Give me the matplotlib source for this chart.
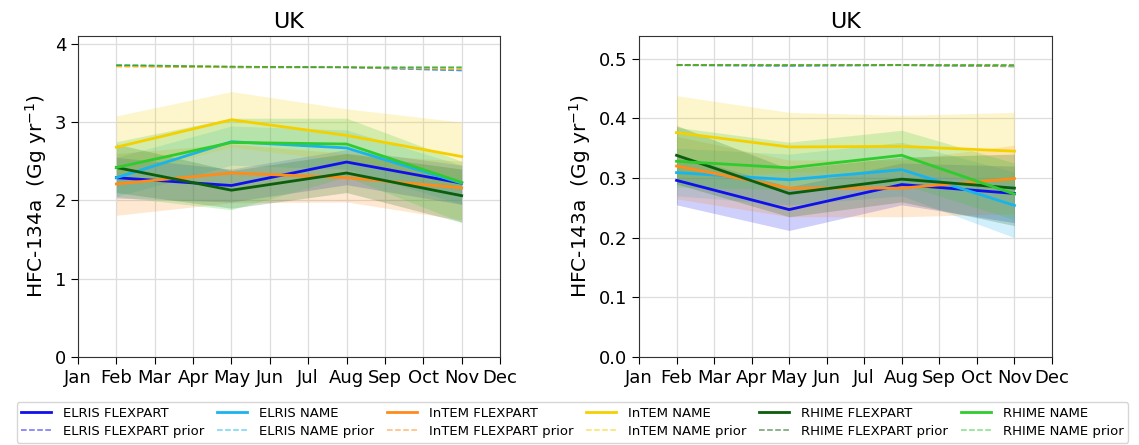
import matplotlib
matplotlib.use("Agg")
import matplotlib.pyplot as plt
import numpy as np

months = ["Jan", "Feb", "Mar", "Apr", "May", "Jun", "Jul", "Aug", "Sep", "Oct", "Nov", "Dec"]
x_months = [2, 5, 8, 11]

models = ["ELRIS FLEXPART", "ELRIS NAME", "InTEM FLEXPART", "InTEM NAME", "RHIME FLEXPART", "RHIME NAME"]
colors = ["#1010ee", "#19b4ee", "#ff8c1a", "#f5d000", "#0b5e0b", "#2ecc2e"]

# HFC-134a (Gg/yr)
h134_mean = {
    "ELRIS FLEXPART": [2.29, 2.19, 2.49, 2.22],
    "ELRIS NAME": [2.29, 2.75, 2.67, 2.22],
    "InTEM FLEXPART": [2.21, 2.35, 2.29, 2.16],
    "InTEM NAME": [2.68, 3.03, 2.83, 2.56],
    "RHIME FLEXPART": [2.42, 2.13, 2.35, 2.06],
    "RHIME NAME": [2.42, 2.74, 2.72, 2.23],
}
h134_low = {
    "ELRIS FLEXPART": [2.03, 1.98, 2.20, 1.95],
    "ELRIS NAME": [2.05, 2.45, 2.40, 1.95],
    "InTEM FLEXPART": [1.81, 1.97, 1.98, 1.75],
    "InTEM NAME": [2.30, 2.68, 2.50, 2.15],
    "RHIME FLEXPART": [2.10, 1.90, 2.10, 1.72],
    "RHIME NAME": [2.05, 1.88, 2.30, 1.72],
}
h134_high = {
    "ELRIS FLEXPART": [2.55, 2.40, 2.65, 2.45],
    "ELRIS NAME": [2.55, 2.95, 2.90, 2.45],
    "InTEM FLEXPART": [2.60, 2.72, 2.60, 2.50],
    "InTEM NAME": [3.08, 3.39, 3.17, 3.00],
    "RHIME FLEXPART": [2.72, 2.38, 2.60, 2.40],
    "RHIME NAME": [2.75, 3.05, 3.05, 2.50],
}
h134_prior = {
    "ELRIS FLEXPART": [3.72, 3.70, 3.70, 3.66],
    "ELRIS NAME": [3.72, 3.70, 3.70, 3.66],
    "InTEM FLEXPART": [3.71, 3.70, 3.70, 3.68],
    "InTEM NAME": [3.71, 3.70, 3.70, 3.68],
    "RHIME FLEXPART": [3.73, 3.71, 3.70, 3.70],
    "RHIME NAME": [3.73, 3.71, 3.70, 3.70],
}

# HFC-143a (Gg/yr)
h143_mean = {
    "ELRIS FLEXPART": [0.296, 0.247, 0.289, 0.274],
    "ELRIS NAME": [0.309, 0.297, 0.314, 0.254],
    "InTEM FLEXPART": [0.320, 0.283, 0.283, 0.299],
    "InTEM NAME": [0.376, 0.352, 0.353, 0.345],
    "RHIME FLEXPART": [0.338, 0.274, 0.298, 0.283],
    "RHIME NAME": [0.328, 0.317, 0.338, 0.273],
}
h143_low = {
    "ELRIS FLEXPART": [0.255, 0.212, 0.255, 0.225],
    "ELRIS NAME": [0.270, 0.255, 0.270, 0.200],
    "InTEM FLEXPART": [0.265, 0.235, 0.235, 0.240],
    "InTEM NAME": [0.300, 0.310, 0.310, 0.290],
    "RHIME FLEXPART": [0.290, 0.235, 0.260, 0.220],
    "RHIME NAME": [0.285, 0.280, 0.290, 0.230],
}
h143_high = {
    "ELRIS FLEXPART": [0.340, 0.285, 0.325, 0.320],
    "ELRIS NAME": [0.350, 0.340, 0.360, 0.310],
    "InTEM FLEXPART": [0.370, 0.330, 0.330, 0.355],
    "InTEM NAME": [0.438, 0.410, 0.405, 0.410],
    "RHIME FLEXPART": [0.388, 0.315, 0.335, 0.340],
    "RHIME NAME": [0.385, 0.360, 0.380, 0.325],
}
h143_prior = {
    "ELRIS FLEXPART": [0.489, 0.488, 0.489, 0.487],
    "ELRIS NAME": [0.489, 0.488, 0.489, 0.487],
    "InTEM FLEXPART": [0.489, 0.489, 0.489, 0.488],
    "InTEM NAME": [0.489, 0.489, 0.489, 0.488],
    "RHIME FLEXPART": [0.489, 0.489, 0.489, 0.489],
    "RHIME NAME": [0.489, 0.489, 0.489, 0.489],
}

fig = plt.figure(figsize=(11.39, 4.45), dpi=100)
ax1 = fig.add_axes([0.0685, 0.198, 0.3705, 0.721])
ax2 = fig.add_axes([0.561, 0.198, 0.3626, 0.721])

def draw(ax, mean, low, high, prior, ylabel, ylim, yticks):
    handles = []
    for m, c in zip(models, colors):
        ax.fill_between(x_months, low[m], high[m], color=c, alpha=0.2, linewidth=0)
    for m, c in zip(models, colors):
        l, = ax.plot(x_months, mean[m], color=c, lw=2.0, label=m)
        p, = ax.plot(x_months, prior[m], color=c, lw=1.1, ls="--", alpha=0.6, label=m + " prior")
        handles += [l, p]
    ax.set_xlim(1, 12)
    ax.set_xticks(range(1, 13))
    ax.set_xticklabels(months)
    ax.set_ylim(*ylim)
    ax.set_yticks(yticks)
    ax.grid(True, color="#dddddd", lw=0.9)
    ax.set_axisbelow(True)
    ax.set_title("UK", fontsize=16)
    ax.set_ylabel(ylabel, fontsize=14.5)
    ax.tick_params(labelsize=13, length=5)
    for s in ax.spines.values():
        s.set_color("#333333")
    return handles

handles = draw(ax1, h134_mean, h134_low, h134_high, h134_prior,
               "HFC-134a  (Gg yr$^{-1}$)", (0, 4.1), [0, 1, 2, 3, 4])
draw(ax2, h143_mean, h143_low, h143_high, h143_prior,
     "HFC-143a  (Gg yr$^{-1}$)", (0, 0.538), [0.0, 0.1, 0.2, 0.3, 0.4, 0.5])
ax2.set_yticklabels(["0.0", "0.1", "0.2", "0.3", "0.4", "0.5"])

leg = fig.legend(handles, [h.get_label() for h in handles], loc="upper center",
                 bbox_to_anchor=(0.5026, 0.0966), ncol=6, fontsize=9.5, frameon=True,
                 columnspacing=0.98, handlelength=2.27, handletextpad=0.9,
                 borderpad=0.35, labelspacing=0.4, borderaxespad=0)
leg.get_frame().set_edgecolor("#cccccc")

fig.savefig("out.png", dpi=100)
